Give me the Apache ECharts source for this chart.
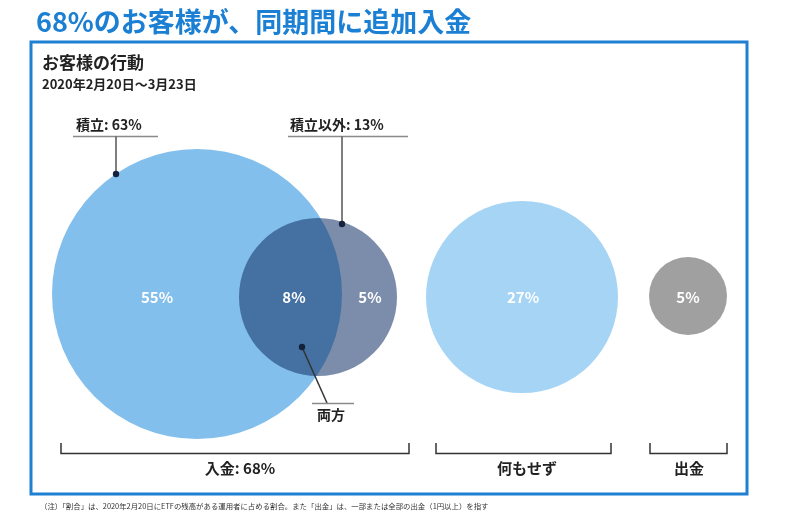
<!DOCTYPE html>
<html><head><meta charset="utf-8">
<script src="https://cdn.jsdelivr.net/npm/echarts@6/dist/echarts.min.js"></script>
<style>html,body{margin:0;padding:0;background:#fff}#c{width:800px;height:526px}</style>
</head><body><div id="c"></div>
<script>
// ---- data ----
const groupNames = ['入金', '何もせず', '出金'];
const depositShare = 68;      // 入金
const tsumitateShare = 63;    // 積立
const otherShare = 13;        // 積立以外
const bothShare = 8;          // 両方
const nothingShare = 27;      // 何もせず
const withdrawShare = 5;      // 出金
const subtitleText = 'お客様の行動';
const periodText = '2020年2月20日～3月23日';
const noteText = '（注）「割合」は、2020年2月20日にETFの残高がある運用者に占める割合。また「出金」は、一部または全部の出金（1円以上）を指す';

// ---- layout (positions / sizes, not data) ----
const FONT = '"Noto Sans CJK JP", "Noto Sans", sans-serif';
const L = {
  tsumitate: { x: 197, y: 294, d: 290 },
  other: { x: 318, y: 297, d: 158 },
  nothing: { x: 522, y: 297, d: 192 },
  withdraw: { x: 688, y: 296, d: 78 },
  lblTsumitateOnly: [157, 297],
  lblBoth: [294, 297],
  lblOtherOnly: [370, 297],
  lblNothing: [523, 297],
  lblWithdraw: [688, 297]
};

const tsumitateOnly = tsumitateShare - bothShare;
const otherOnly = otherShare - bothShare;

const chart = echarts.init(document.getElementById('c'), null, { renderer: 'canvas' });

const circleData = [
  { name: '積立', value: [L.tsumitate.x, L.tsumitate.y, tsumitateShare], symbolSize: L.tsumitate.d, itemStyle: { color: '#83bfec', opacity: 1 } },
  { name: '積立以外', value: [L.other.x, L.other.y, otherShare], symbolSize: L.other.d, itemStyle: { color: '#102f66', opacity: 0.55 } },
  { name: '何もせず', value: [L.nothing.x, L.nothing.y, nothingShare], symbolSize: L.nothing.d, itemStyle: { color: '#a6d4f5', opacity: 1 } },
  { name: '出金', value: [L.withdraw.x, L.withdraw.y, withdrawShare], symbolSize: L.withdraw.d, itemStyle: { color: '#a0a0a0', opacity: 1 } }
];

const labelData = [
  { value: [L.lblTsumitateOnly[0], L.lblTsumitateOnly[1], tsumitateOnly] },
  { value: [L.lblBoth[0], L.lblBoth[1], bothShare] },
  { value: [L.lblOtherOnly[0], L.lblOtherOnly[1], otherOnly] },
  { value: [L.lblNothing[0], L.lblNothing[1], nothingShare] },
  { value: [L.lblWithdraw[0], L.lblWithdraw[1], withdrawShare] }
];

const darkText = '#222';
const lineGray = '#8a8a8a';
const dotColor = '#14233d';

function txt(x, y, text, size, opts) {
  return Object.assign({
    type: 'text', x: x, y: y, z: 100,
    style: Object.assign({ text: text, font: 'bold ' + size + 'px ' + FONT, fill: darkText, textAlign: 'left', textVerticalAlign: 'middle' }, (opts && opts.style) || {})
  }, opts && opts.root || {});
}
function line(x1, y1, x2, y2, color, w) {
  return { type: 'line', z: 100, shape: { x1: x1, y1: y1, x2: x2, y2: y2 }, style: { stroke: color, lineWidth: w } };
}
function dot(x, y) {
  return { type: 'circle', z: 101, shape: { cx: x, cy: y, r: 3.2 }, style: { fill: dotColor } };
}
function bracket(x1, x2) {
  return { type: 'polyline', z: 100, shape: { points: [[x1, 443], [x1, 453.5], [x2, 453.5], [x2, 443]] }, style: { stroke: '#333', lineWidth: 1.5, fill: null } };
}

const graphics = [
  { type: 'rect', z: 50, shape: { x: 31, y: 42, width: 716, height: 452 }, style: { stroke: '#1f80d2', lineWidth: 3, fill: null } },
  txt(42, 63, subtitleText, 17),
  txt(42, 84, periodText, 13),
  // 積立 annotation
  txt(76, 125, '積立: ' + tsumitateShare + '%', 14),
  line(73, 136.5, 158, 136.5, lineGray, 1.5),
  line(116, 136.5, 116, 174, '#555', 1.5),
  dot(116, 174),
  // 積立以外 annotation
  txt(290, 125, '積立以外: ' + otherShare + '%', 14),
  line(288, 136.5, 408, 136.5, lineGray, 1.5),
  line(342, 136.5, 342, 224, '#555', 1.5),
  dot(342, 224),
  // 両方 annotation
  line(302, 347, 327, 403, '#333', 1.5),
  line(312, 403.5, 354, 403.5, lineGray, 1.5),
  dot(302, 347),
  txt(331, 415, '両方', 14, { style: { textAlign: 'center' } }),
  // brackets
  bracket(61, 409),
  bracket(436, 611),
  bracket(650, 727),
  txt(240, 468, groupNames[0] + ': ' + depositShare + '%', 15, { style: { textAlign: 'center' } }),
  txt(527, 468, groupNames[1], 15, { style: { textAlign: 'center' } }),
  txt(689, 468, groupNames[2], 15, { style: { textAlign: 'center' } }),
  // footnote
  { type: 'text', x: 40, y: 506, z: 100, style: { text: noteText, font: '7.4px ' + FONT, fill: '#333', textAlign: 'left', textVerticalAlign: 'middle' } }
];

chart.setOption({
  animation: false,
  backgroundColor: '#fff',
  title: {
    text: depositShare + '%のお客様が、同期間に追加入金',
    left: 31, top: 3,
    textStyle: { color: '#1b7fd3', fontSize: 27, fontWeight: 'bold', fontFamily: FONT }
  },
  grid: { left: 0, right: 0, top: 0, bottom: 0 },
  xAxis: { type: 'value', min: 0, max: 800, show: false },
  yAxis: { type: 'value', min: 0, max: 526, inverse: true, show: false },
  series: [
    {
      type: 'scatter', name: 'circles', z: 2,
      symbol: 'circle',
      data: circleData,
      itemStyle: { borderWidth: 0 },
      emphasis: { disabled: true },
      silent: true
    },
    {
      type: 'scatter', name: 'labels', z: 5,
      symbol: 'circle',
      symbolSize: 2,
      itemStyle: { color: 'transparent' },
      data: labelData,
      label: {
        show: true, position: 'inside',
        formatter: p => p.value[2] + '%',
        color: '#ffffff', opacity: 1, textBorderWidth: 0, textShadowBlur: 0,
        fontSize: 15, fontWeight: 'bold', fontFamily: FONT
      },
      labelLayout: { hideOverlap: false },
      emphasis: { disabled: true },
      silent: true
    }
  ],
  graphic: graphics
});
</script>
</body></html>
